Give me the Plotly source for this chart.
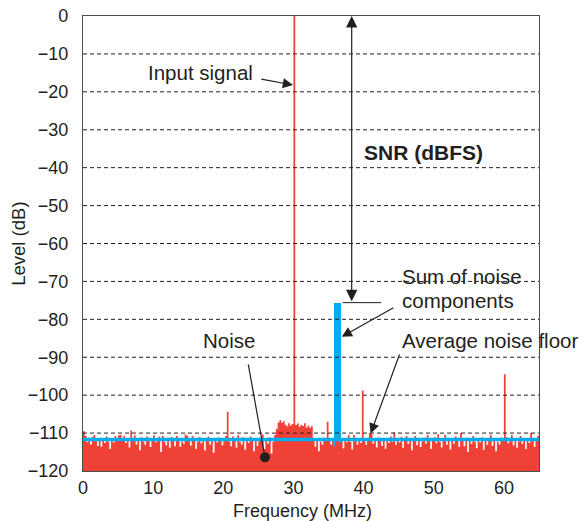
import numpy as np
import plotly.graph_objects as go

# ---------------- data ----------------
bin_width_mhz = 0.25
noise_db = [
    # 0 - 4.75 MHz
    -109.5, -110.8, -112.4, -111.2, -113.0, -111.0, -110.5, -111.9, -113.4, -111.3,
    -113.6, -111.5, -112.6, -110.9, -112.3, -114.2, -111.4, -112.5, -110.8, -112.0,
    # 5 - 9.75
    -110.6, -110.5, -111.8, -110.7, -112.6, -111.3, -113.8, -109.3, -111.8, -110.6,
    -113.0, -111.4, -114.5, -111.1, -112.2, -113.1, -110.9, -112.0, -113.7, -111.5,
    # 10 - 14.75
    -110.6, -112.4, -111.3, -110.9, -115.0, -110.7, -112.3, -113.2, -111.2, -113.9,
    -111.0, -111.9, -113.5, -110.8, -111.9, -113.6, -112.2, -112.8, -110.4, -110.7,
    # 15 - 19.75
    -111.9, -113.3, -110.8, -111.7, -114.2, -112.3, -111.0, -112.7, -111.3, -114.6,
    -111.6, -110.9, -113.0, -112.1, -115.2, -111.4, -112.5, -111.2, -112.0, -113.2,
    # 20 - 24.75
    -111.5, -110.8, -104.4, -112.2, -113.5, -110.9, -111.8, -113.9, -110.6, -112.3,
    -113.0, -111.1, -114.4, -111.6, -112.6, -110.9, -111.9, -114.8, -111.5, -113.4,
    # 25 - 29.75
    -111.2, -112.1, -110.4, -114.2, -111.7, -112.8, -111.1, -115.4, -112.3, -110.5,
    -108.9, -107.2, -106.6, -107.3, -106.9, -107.8, -108.2, -107.4, -108.0, -107.6,
    # 30 - 34.75 (input signal at 30 MHz)
    0.0, -107.9, -107.5, -108.3, -107.8, -108.1, -107.4, -108.5, -108.0, -108.6,
    -108.2, -111.9, -113.6, -111.6, -114.8, -112.2, -113.1, -111.2, -111.8, -107.0,
    # 35 - 39.75
    -111.9, -113.0, -111.3, -113.5, -111.8, -111.1, -112.6, -112.0, -114.0, -111.4,
    -112.4, -110.5, -112.3, -114.3, -110.5, -112.1, -113.0, -111.5, -112.6, -98.8,
    # 40 - 44.75
    -111.7, -113.1, -111.3, -110.0, -110.2, -112.8, -111.8, -113.8, -111.2, -112.1,
    -113.4, -111.6, -114.1, -111.3, -112.6, -110.9, -112.3, -109.8, -113.1, -111.7,
    # 45 - 49.75
    -112.5, -111.0, -113.9, -111.9, -110.8, -112.9, -111.4, -114.5, -111.8, -110.8,
    -113.2, -111.5, -113.7, -112.2, -111.2, -112.8, -110.5, -112.0, -114.2, -111.6,
    # 50 - 54.75
    -111.1, -112.7, -110.3, -112.3, -113.8, -111.7, -110.5, -113.1, -111.3, -114.3,
    -112.0, -112.8, -110.9, -111.8, -113.6, -110.0, -112.1, -113.5, -111.5, -115.0,
    # 55 - 59.75
    -111.9, -112.9, -110.8, -112.3, -114.0, -111.4, -112.5, -111.1, -114.4, -111.8,
    -113.1, -111.3, -110.5, -113.4, -111.7, -114.8, -112.3, -113.0, -111.2, -111.9,
    # 60 - 65
    -94.5, -111.1, -112.7, -111.7, -110.5, -113.3, -111.3, -113.9, -112.2, -110.8,
    -112.9, -111.4, -114.2, -111.9, -112.6, -110.0, -111.6, -113.7, -112.1, -110.7,
    -111.8,
]
freq_mhz = list(np.arange(len(noise_db)) * bin_width_mhz)

avg_noise_floor_db = -111.7
sum_noise_freq_mhz = 36.25
sum_noise_level_db = -75.6
sum_noise_bar_width = 0.95

x_range = [0, 65]
y_range = [-120, 0]
x_ticks = [0, 10, 20, 30, 40, 50, 60]
y_ticks = [0, -10, -20, -30, -40, -50, -60, -70, -80, -90, -100, -110, -120]

snr_arrow_x = 38.3
noise_dot = (25.94, -116.4)

# ---------------- styles ----------------
RED = "#EF4136"
BLUE = "#00AEEF"
INK = "#231F20"
FONT = "Liberation Sans, Arial, Helvetica, sans-serif"

fig = go.Figure()

# baseline for the noise fill
fig.add_trace(go.Scatter(x=x_range, y=[y_range[0], y_range[0]], mode="lines",
                         line=dict(width=0, color=RED), hoverinfo="skip", showlegend=False))
# noise spectrum (filled)
fig.add_trace(go.Scatter(x=freq_mhz, y=noise_db, mode="lines", line_shape="hv",
                         line=dict(width=0, color=RED), fill="tonexty", fillcolor=RED,
                         showlegend=False, name="Spectrum"))

# dashed grid drawn above the spectrum
gx, gy = [], []
for t in y_ticks[1:-1]:
    gx += [x_range[0], x_range[1], None]
    gy += [t, t, None]
fig.add_trace(go.Scatter(x=gx, y=gy, mode="lines",
                         line=dict(color=INK, width=1, dash="4px,3px"),
                         hoverinfo="skip", showlegend=False))

# average noise floor
fig.add_trace(go.Scatter(x=x_range, y=[avg_noise_floor_db, avg_noise_floor_db], mode="lines",
                         line=dict(color=BLUE, width=3.5), showlegend=False,
                         name="Average noise floor"))

# sum of noise components bar
fig.add_trace(go.Bar(x=[sum_noise_freq_mhz], y=[sum_noise_level_db - y_range[0]],
                     base=[y_range[0]], width=[sum_noise_bar_width],
                     marker=dict(color=BLUE, line=dict(width=0)), showlegend=False,
                     name="Sum of noise components"))

# noise dot
fig.add_trace(go.Scatter(x=[noise_dot[0]], y=[noise_dot[1]], mode="markers",
                         marker=dict(color=INK, size=10), showlegend=False, hoverinfo="skip"))

ann_font = dict(family=FONT, size=20.5, color=INK)
arrow = dict(showarrow=True, arrowhead=2, arrowsize=1.7, arrowwidth=1.2, arrowcolor=INK,
             axref="x", ayref="y", text="")
annotations = [
    dict(x=24.5, y=-15.0, text="Input signal", xanchor="right", yanchor="middle",
         showarrow=False, font=ann_font),
    dict(arrow, x=29.93, y=-18.2, ax=25.2, ay=-16.6),
    # SNR double arrow
    dict(x=snr_arrow_x, y=0, ax=snr_arrow_x, ay=sum_noise_level_db, axref="x", ayref="y",
         text="", showarrow=True, arrowhead=2, startarrowhead=2, arrowside="end+start",
         arrowsize=1.9, startarrowsize=1.9, arrowwidth=1.2, arrowcolor=INK,
         standoff=0, startstandoff=0),
    dict(x=39.8, y=-36.1, text="<b>SNR (dBFS)</b>", xanchor="left", yanchor="middle",
         showarrow=False, font=dict(family=FONT, size=21, color=INK)),
    dict(x=45.2, y=-68.6, text="Sum of noise", xanchor="left", yanchor="middle",
         showarrow=False, font=ann_font),
    dict(x=45.2, y=-74.9, text="components", xanchor="left", yanchor="middle",
         showarrow=False, font=ann_font),
    dict(arrow, x=36.88, y=-84.6, ax=44.47, ay=-76.7),
    dict(x=45.2, y=-85.7, text="Average noise floor", xanchor="left", yanchor="middle",
         showarrow=False, font=ann_font),
    dict(arrow, x=41.0, y=-110.1, ax=45.19, ay=-88.9),
    dict(x=20.8, y=-85.7, text="Noise", xanchor="center", yanchor="middle",
         showarrow=False, font=ann_font),
    dict(x=noise_dot[0], y=noise_dot[1], ax=23.52, ay=-91.5, axref="x", ayref="y", text="",
         showarrow=True, arrowhead=0, arrowwidth=1.2, arrowcolor=INK, standoff=0),
    # axis titles
    dict(xref="paper", yref="paper", x=0.482, y=-0.087, text="Frequency (MHz)",
         xanchor="center", yanchor="middle", showarrow=False,
         font=dict(family=FONT, size=18, color=INK)),
    dict(xref="paper", yref="paper", x=-0.142, y=0.5, text="Level (dB)", textangle=-90,
         xanchor="center", yanchor="middle", showarrow=False,
         font=dict(family=FONT, size=18.5, color=INK)),
]

fig.update_layout(
    width=584, height=521,
    margin=dict(l=83, r=45, t=16, b=50, autoexpand=False),
    paper_bgcolor="white", plot_bgcolor="white",
    font=dict(family=FONT, size=18, color=INK),
    annotations=annotations,
    shapes=[dict(type="line", xref="x", yref="y", x0=37.0, x1=42.5,
                 y0=sum_noise_level_db, y1=sum_noise_level_db,
                 line=dict(color=INK, width=1))],
    bargap=0,
    hovermode=False,
)
fig.update_xaxes(range=x_range, tickvals=x_ticks, showgrid=False, zeroline=False,
                 showline=True, mirror=True, linecolor="#4d4d4d", linewidth=1.3,
                 ticks="", ticklabelstandoff=0, layer="above traces", automargin=False,
                 tickfont=dict(size=18))
fig.update_yaxes(range=y_range, tickvals=y_ticks, showgrid=False, zeroline=False,
                 showline=True, mirror=True, linecolor="#4d4d4d", linewidth=1.3,
                 ticks="", ticklabelstandoff=10, layer="above traces", automargin=False,
                 tickfont=dict(size=18))

fig.write_html("out.html", config={"displayModeBar": False},
               post_script="document.body.style.margin='0';")
